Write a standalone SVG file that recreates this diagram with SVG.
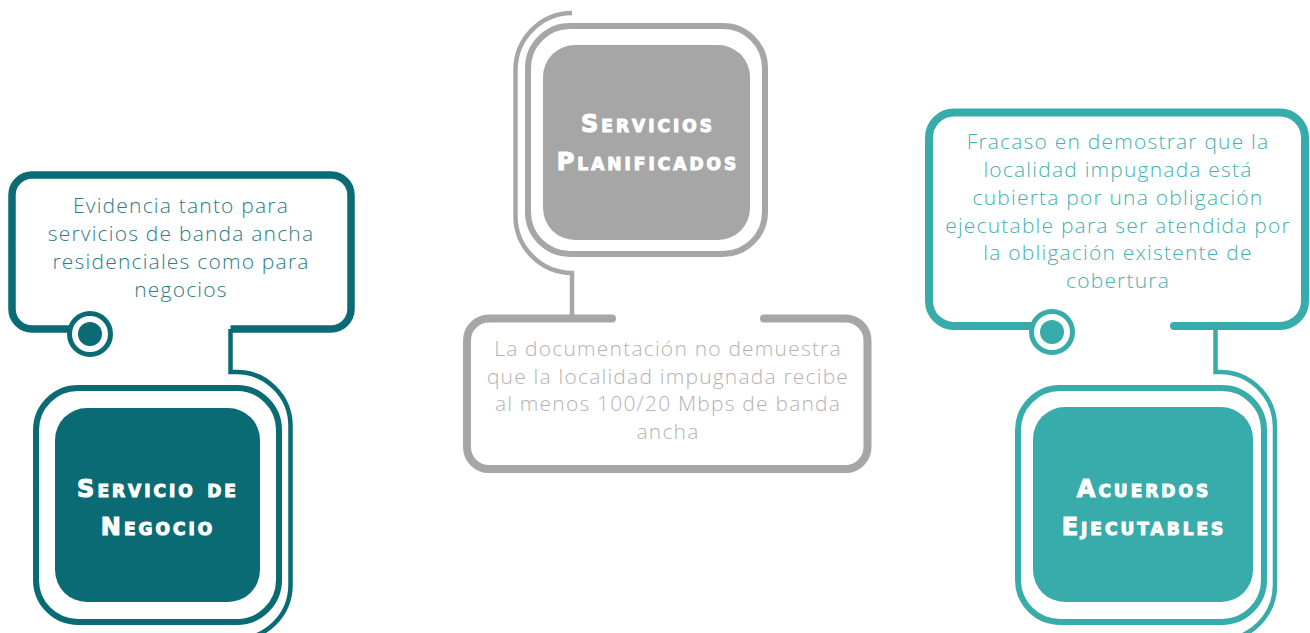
<svg xmlns="http://www.w3.org/2000/svg" width="1310" height="633" viewBox="0 0 1310 633">
<style>
.dk{stroke:#0b6b75;fill:none}
.lt{stroke:#38abab;fill:none}
.gr{stroke:#a6a6a6;fill:none}
.title{font-family:"DejaVu Sans",sans-serif;font-weight:bold;font-size:24px;font-variant:small-caps;letter-spacing:3px;fill:#fff;stroke:#fff;stroke-width:1.1;text-anchor:middle}
.body{font-family:"Open Sans","Noto Sans",sans-serif;font-weight:300;font-size:21px;letter-spacing:1.2px;text-anchor:middle}
</style>
<rect width="1310" height="633" fill="#fff"/>
<g id="connectors" stroke-linecap="round">
  <path class="dk" stroke-width="4.5" stroke-linecap="butt" d="M230.5 329 V372 H236 A54 54 0 0 1 290.5 426 V585 A54 54 0 0 1 236 639"/>
  <path class="gr" stroke-width="4.5" stroke-linecap="butt" d="M572 13 A57 57 0 0 0 515.5 70 V216 A57 57 0 0 0 572 273 V318"/>
  <path class="lt" stroke-width="4.5" stroke-linecap="butt" d="M1215.5 326 V372 H1220 A55 55 0 0 1 1275 427 V585 A55 55 0 0 1 1220 640"/>
</g>
<g id="callout-negocio">
  <path class="dk" stroke-width="7.5" d="M70 329 H32 A20 20 0 0 1 12 309 V195 A20 20 0 0 1 32 175 H331 A20 20 0 0 1 351 195 V309 A20 20 0 0 1 331 329 H230.5"/>
  <circle cx="90" cy="334" r="20.5" fill="#fff" stroke="#0b6b75" stroke-width="5"/>
  <circle cx="90" cy="334" r="12" fill="#0b6b75"/>
  <text class="body" fill="#2a7d86"><tspan x="181" y="213">Evidencia tanto para</tspan><tspan x="181" y="241">servicios de banda ancha</tspan><tspan x="181" y="269">residenciales como para</tspan><tspan x="181" y="297">negocios</tspan></text>
</g>
<g id="node-negocio">
  <rect x="36" y="388" width="243" height="234" rx="42" class="dk" stroke-width="6"/>
  <rect x="55" y="408" width="205" height="194" rx="32" fill="#0b6b75"/>
  <text class="title"><tspan x="158" y="497">Servicio de</tspan><tspan x="158" y="535">Negocio</tspan></text>
</g>
<g id="node-planificados">
  <rect x="528" y="26" width="237" height="228" rx="42" class="gr" stroke-width="6"/>
  <rect x="543" y="45" width="207" height="195" rx="32" fill="#a6a6a6"/>
  <text class="title"><tspan x="648" y="132">Servicios</tspan><tspan x="648" y="170">Planificados</tspan></text>
</g>
<g id="callout-planificados">
  <path class="gr" stroke-width="8" stroke-linecap="round" d="M612 318.5 H489 A22 22 0 0 0 467 340.5 V447 A22 22 0 0 0 489 469 H845.5 A22 22 0 0 0 867.5 447 V340.5 A22 22 0 0 0 845.5 318.5 H764"/>
  <text class="body" fill="#b3b3b3"><tspan x="668" y="356">La documentación no demuestra</tspan><tspan x="668" y="384">que la localidad impugnada recibe</tspan><tspan x="668" y="411">al menos 100/20 Mbps de banda</tspan><tspan x="668" y="439">ancha</tspan></text>
</g>
<g id="callout-acuerdos">
  <path class="lt" stroke-width="8" stroke-linecap="round" d="M1030 326 H954 A25 25 0 0 1 929 301 V137.5 A25 25 0 0 1 954 112.5 H1280 A25 25 0 0 1 1305 137.5 V301 A25 25 0 0 1 1280 326 H1174"/>
  <circle cx="1052" cy="332" r="20.5" fill="#fff" stroke="#38abab" stroke-width="5"/>
  <circle cx="1052" cy="332" r="12" fill="#38abab"/>
  <text class="body" fill="#45b1b1"><tspan x="1118" y="149">Fracaso en demostrar que la</tspan><tspan x="1118" y="177">localidad impugnada está</tspan><tspan x="1118" y="205">cubierta por una obligación</tspan><tspan x="1118" y="233">ejecutable para ser atendida por</tspan><tspan x="1118" y="260">la obligación existente de</tspan><tspan x="1118" y="288">cobertura</tspan></text>
</g>
<g id="node-acuerdos">
  <rect x="1018" y="388" width="246" height="234" rx="42" class="lt" stroke-width="6"/>
  <rect x="1033" y="407" width="220" height="195" rx="32" fill="#38abab"/>
  <text class="title"><tspan x="1144" y="497">Acuerdos</tspan><tspan x="1144" y="535">Ejecutables</tspan></text>
</g>
</svg>
